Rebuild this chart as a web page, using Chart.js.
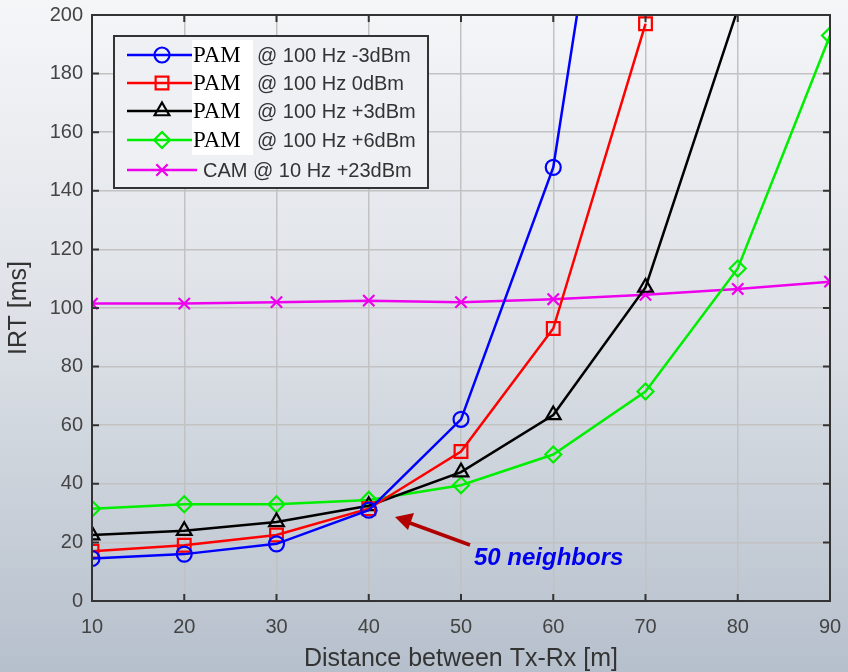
<!DOCTYPE html>
<html>
<head>
<meta charset="utf-8">
<script src="https://cdn.jsdelivr.net/npm/chart.js@4.4.0/dist/chart.umd.min.js"></script>
<style>
  body { margin: 0; background: #dfe3e8; }
  #c { display: block; }
</style>
</head>
<body>
<canvas id="c" width="848" height="672"></canvas>
<script>
// distances in metres
const distances = [10, 20, 30, 40, 50, 60, 70, 80, 90];
const yTicks = [0, 20, 40, 60, 80, 100, 120, 140, 160, 180, 200];

// IRT in ms (null = not plotted)
const pamMinus3 = [14.5, 16, 19.5, 31, 62, 148, 350, null, null];
const pam0 = [17, 19, 22.5, 31.5, 51, 93, 197, null, null];
const pamPlus3 = [22.5, 24, 27, 32.5, 44, 63.5, 107, 202, null];
const pamPlus6 = [31.5, 33, 33, 34.5, 39.5, 50, 71.5, 113.5, 193];
const cam10 = [101.5, 101.5, 102, 102.5, 102, 103, 104.5, 106.5, 109];

const labels = [
  'PAM @ 100 Hz -3dBm',
  'PAM @ 100 Hz 0dBm',
  'PAM @ 100 Hz +3dBm',
  'PAM @ 100 Hz +6dBm',
  'CAM @ 10 Hz +23dBm'
];
const colors = ['#0000ff', '#ff0000', '#000000', '#00ee00', '#ee00ee'];
const styles = ['circle', 'rect', 'triangle', 'rectRot', 'crossRot'];
const sizes = [7.5, 9, 8.5, 8, 8];
const series = [pamMinus3, pam0, pamPlus3, pamPlus6, cam10];

function pts(arr) {
  return distances.map((d, i) => ({ x: d, y: arr[i] })).filter(p => p.y !== null);
}

const datasets = series.map((s, i) => ({
  label: labels[i],
  data: pts(s),
  borderColor: colors[i],
  borderWidth: 2.5,
  pointStyle: styles[i],
  pointRadius: sizes[i],
  pointBorderWidth: 2.2,
  pointBorderColor: colors[i],
  pointBackgroundColor: 'rgba(0,0,0,0)',
  tension: 0
}));

const SANS = '"Liberation Sans", Arial, sans-serif';

const bgPlugin = {
  id: 'bg',
  beforeDraw(chart) {
    const c = chart.ctx;
    const g = c.createLinearGradient(0, 0, 0, chart.height);
    g.addColorStop(0, '#f5f6f8');
    g.addColorStop(0.5, '#dce0e6');
    g.addColorStop(1, '#b6c0cc');
    c.save();
    c.fillStyle = g;
    c.fillRect(0, 0, chart.width, chart.height);
    c.restore();
  }
};

const frame = {
  id: 'frame',
  afterDatasetsDraw(chart) {
    const c = chart.ctx;
    const a = chart.chartArea;
    const xs = chart.scales.x, ys = chart.scales.y;
    c.save();
    c.strokeStyle = '#333';
    c.lineWidth = 2;
    c.strokeRect(a.left, a.top, a.right - a.left, a.bottom - a.top);
    // inward tick marks
    c.beginPath();
    distances.forEach(d => {
      const px = xs.getPixelForValue(d);
      c.moveTo(px, a.bottom); c.lineTo(px, a.bottom - 7);
      c.moveTo(px, a.top); c.lineTo(px, a.top + 7);
    });
    yTicks.forEach(v => {
      const py = ys.getPixelForValue(v);
      c.moveTo(a.left, py); c.lineTo(a.left + 7, py);
      c.moveTo(a.right, py); c.lineTo(a.right - 7, py);
    });
    c.stroke();

    // arrow + annotation
    c.strokeStyle = '#b00000';
    c.fillStyle = '#b00000';
    c.lineWidth = 3.5;
    c.beginPath();
    c.moveTo(470, 545); c.lineTo(410, 523);
    c.stroke();
    c.beginPath();
    c.moveTo(395, 517); c.lineTo(414, 513); c.lineTo(408, 530);
    c.closePath(); c.fill();
    c.font = 'italic bold 24px ' + SANS;
    c.fillStyle = '#0000ee';
    c.textBaseline = 'alphabetic';
    c.fillText('50 neighbors', 474, 565);

    // legend
    const L = 114, T = 36, R = 428, B = 188;
    c.fillStyle = '#eef0f3';
    c.fillRect(L, T, R - L, B - T);
    c.strokeStyle = '#333';
    c.lineWidth = 2;
    c.strokeRect(L, T, R - L, B - T);
    const rows = [55, 83, 111, 140, 170];
    chart.data.datasets.forEach((ds, i) => {
      const y = rows[i];
      const pam = ds.label.startsWith('PAM');
      const lineEnd = pam ? 192 : 197;
      c.strokeStyle = ds.borderColor;
      c.lineWidth = 2.5;
      c.beginPath(); c.moveTo(127, y); c.lineTo(lineEnd, y); c.stroke();
      c.fillStyle = 'rgba(0,0,0,0)';
      c.lineWidth = 2.2;
      Chart.helpers.drawPoint(c, {
        pointStyle: ds.pointStyle, radius: ds.pointRadius, borderWidth: 2.2, rotation: 0
      }, 162, y);
      const first = ds.label.split(' ')[0];
      const rest = ds.label.slice(first.length + 1);
      c.textBaseline = 'middle';
      if (pam) {
        c.fillStyle = '#ffffff';
        c.fillRect(192, y - 15, 61, 30);
        c.fillStyle = '#000';
        c.font = '23px "Liberation Serif", "Times New Roman", serif';
        c.fillText(first, 193, y + 1);
        c.fillStyle = '#333';
        c.font = '20px ' + SANS;
        c.fillText(rest, 257, y + 1);
      } else {
        c.fillStyle = '#333';
        c.font = '20px ' + SANS;
        c.fillText(ds.label, 203, y + 1);
      }
    });
    c.restore();
  }
};

new Chart(document.getElementById('c'), {
  type: 'line',
  data: { datasets: datasets },
  plugins: [bgPlugin, frame],
  options: {
    responsive: false,
    animation: false,
    layout: { padding: { top: 15, right: 18, left: 0, bottom: 0 } },
    plugins: { legend: { display: false }, tooltip: { enabled: false } },
    scales: {
      x: {
        type: 'linear', min: 10, max: 90,
        afterFit(s) { s.height = 71; s.paddingLeft = 0; s.paddingRight = 0; },
        ticks: { stepSize: 10, color: '#444', padding: 14, font: { family: SANS, size: 20 } },
        grid: { color: '#c2c2c2', lineWidth: 1.5, drawTicks: false },
        border: { display: false },
        title: { display: true, text: 'Distance between Tx-Rx [m]', color: '#333',
          padding: { top: 0, bottom: -2 }, font: { family: SANS, size: 25 } }
      },
      y: {
        min: 0, max: 200,
        afterFit(s) { s.width = 92; s.paddingTop = 0; s.paddingBottom = 0; },
        afterBuildTicks(s) { s.ticks = yTicks.map(v => ({ value: v })); },
        ticks: { color: '#444', padding: 9, font: { family: SANS, size: 20 } },
        grid: { color: '#c2c2c2', lineWidth: 1.5, drawTicks: false },
        border: { display: false },
        title: { display: true, text: 'IRT [ms]', color: '#333',
          padding: { top: 4, bottom: 0 }, font: { family: SANS, size: 25 } }
      }
    }
  }
});
</script>
</body>
</html>
